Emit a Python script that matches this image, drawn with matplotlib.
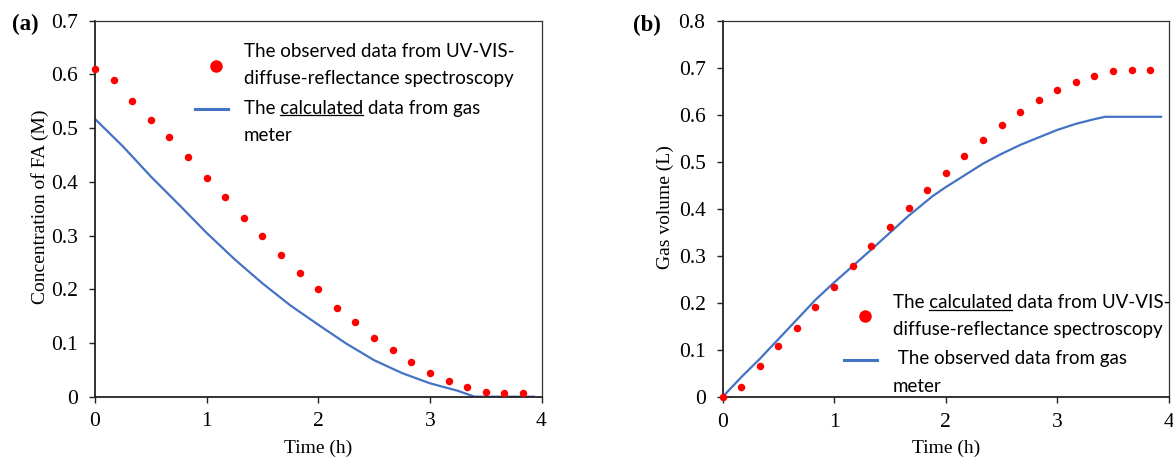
import numpy as np
import matplotlib
matplotlib.use("Agg")
import matplotlib.pyplot as plt
from matplotlib.legend_handler import HandlerLine2D
from matplotlib.lines import Line2D
from matplotlib.transforms import IdentityTransform

# ---------------- data ----------------
time_pts = [0.0, 0.167, 0.333, 0.5, 0.667, 0.833, 1.0, 1.167, 1.333, 1.5, 1.667, 1.833,
            2.0, 2.167, 2.333, 2.5, 2.667, 2.833, 3.0, 3.167, 3.333, 3.5, 3.667, 3.833]

# (a) concentration of FA
fa_observed = [0.611, 0.589, 0.551, 0.515, 0.484, 0.446, 0.407, 0.371, 0.333, 0.299, 0.263, 0.230,
               0.200, 0.166, 0.139, 0.109, 0.087, 0.065, 0.045, 0.029, 0.018, 0.009, 0.007, 0.007]
time_line_a = [0.0, 0.25, 0.5, 0.75, 1.0, 1.25, 1.5, 1.75, 2.0, 2.25, 2.5, 2.75, 3.0, 3.25, 3.4, 3.93]
fa_calculated = [0.517, 0.466, 0.410, 0.358, 0.305, 0.256, 0.211, 0.170, 0.134, 0.099, 0.068, 0.044,
                 0.025, 0.011, 0.0, 0.0]

# (b) gas volume
gas_calculated = [0.0, 0.022, 0.067, 0.108, 0.146, 0.191, 0.234, 0.279, 0.321, 0.362, 0.402, 0.440,
                  0.478, 0.513, 0.548, 0.579, 0.608, 0.633, 0.653, 0.672, 0.684, 0.694, 0.697, 0.697]
time_line_b = [0.0, 0.167, 0.333, 0.5, 0.833, 1.0, 1.167, 1.333, 1.5, 1.667, 1.883, 2.0, 2.167,
               2.333, 2.5, 2.667, 2.833, 3.0, 3.167, 3.333, 3.43, 3.93]
gas_observed = [0.0, 0.042, 0.081, 0.123, 0.207, 0.244, 0.279, 0.314, 0.350, 0.386, 0.428, 0.447,
                0.472, 0.497, 0.518, 0.537, 0.553, 0.569, 0.582, 0.592, 0.597, 0.597]

xticks = [0, 1, 2, 3, 4]
xtick_labels = ["0", "1", "2", "3", "4"]
yticks_a = [0, 0.1, 0.2, 0.3, 0.4, 0.5, 0.6, 0.7]
ytick_labels_a = ["0", "0.1", "0.2", "0.3", "0.4", "0.5", "0.6", "0.7"]
yticks_b = [0, 0.1, 0.2, 0.3, 0.4, 0.5, 0.6, 0.7, 0.8]
ytick_labels_b = ["0", "0.1", "0.2", "0.3", "0.4", "0.5", "0.6", "0.7", "0.8"]

legend_a = ["The observed data from UV-VIS-\ndiffuse-reflectance spectroscopy",
            "The calculated data from gas\nmeter"]
legend_b = ["The calculated data from UV-VIS-\ndiffuse-reflectance spectroscopy",
            " The observed data from gas\nmeter"]

# ---------------- style ----------------
RED = "#FF0000"
BLUE = "#4472C4"
SERIF = "Liberation Serif"
SANS = "Lato"
TICK_FS = 15.5
LABEL_FS = 14
LEG_FS = 13.5

fig = plt.figure(figsize=(11.73, 4.59), dpi=100)
ax_a = fig.add_axes([95 / 1173, 62.3 / 459, 446.5 / 1173, 376 / 459])
ax_b = fig.add_axes([722.5 / 1173, 62.0 / 459, 446.4 / 1173, 375.5 / 459])


class ShiftedHandler(HandlerLine2D):
    """Legend handle shifted by (dx, dy) points inside its box."""
    def __init__(self, dx=0.0, dy=0.0, **kw):
        super().__init__(**kw)
        self._dx = dx
        self._dy = dy

    def create_artists(self, legend, orig_handle, xdescent, ydescent, width, height,
                       fontsize, trans):
        arts = super().create_artists(legend, orig_handle, xdescent, ydescent, width,
                                      height, fontsize, trans)
        for a in arts:
            a.set_xdata(np.asarray(a.get_xdata()) + self._dx)
            a.set_ydata(np.asarray(a.get_ydata()) + self._dy)
        return arts


def style_axes(ax, yticks, ylabels, ylim, ylabel, ylab_x):
    ax.set_xlim(0, 4)
    ax.set_ylim(*ylim)
    ax.set_xticks(xticks)
    ax.set_xticklabels(xtick_labels, fontsize=TICK_FS, family=SERIF)
    ax.set_yticks(yticks)
    ax.set_yticklabels(ylabels, fontsize=TICK_FS, family=SERIF)
    ax.tick_params(direction="out", length=4.2, width=1.0, color="#222222")
    ax.tick_params(axis="y", pad=8)
    ax.tick_params(axis="x", pad=7)
    ax.set_xlabel("Time (h)", fontsize=LABEL_FS, family=SERIF)
    ax.xaxis.set_label_coords(0.5, -0.114)
    ax.set_ylabel(ylabel, fontsize=LABEL_FS, family=SERIF)
    ax.yaxis.set_label_coords(ylab_x, 0.505)
    for s in ["top", "right"]:
        ax.spines[s].set_linewidth(0.9)
        ax.spines[s].set_color("#333333")
    for s in ["left", "bottom"]:
        ax.spines[s].set_linewidth(1.3)
        ax.spines[s].set_color("#222222")


# (a)
ax_a.plot(time_line_a, fa_calculated, color=BLUE, lw=1.6, zorder=2)
ax_a.plot(time_pts, fa_observed, "o", color=RED, ms=5.4, mec="none", zorder=3, clip_on=False)
style_axes(ax_a, yticks_a, ytick_labels_a, (0, 0.7), "Concentration of FA (M)", -0.104)

# (b)
ax_b.plot(time_line_b, gas_observed, color=BLUE, lw=1.6, zorder=2)
ax_b.plot(time_pts, gas_calculated, "o", color=RED, ms=5.4, mec="none", zorder=3, clip_on=False)
style_axes(ax_b, yticks_b, ytick_labels_b, (0, 0.8), "Gas volume (L)", -0.108)

# legends
h_dot = Line2D([], [], ls="none", marker="o", color=RED, ms=9, mec="none")
h_line = Line2D([], [], color=BLUE, lw=2.2)


def make_legend(ax, labels, anchor):
    leg = ax.legend([h_dot, h_line], labels, loc="upper left", bbox_to_anchor=anchor,
                    frameon=False, prop={"family": SANS, "size": LEG_FS},
                    handlelength=1.75, handletextpad=0.85, labelspacing=0.65,
                    borderpad=0, borderaxespad=0,
                    handler_map={h_dot: ShiftedHandler(dx=3.6),
                                 h_line: ShiftedHandler(dy=9.7)})
    for t in leg.get_texts():
        t.set_linespacing(1.75)
    return leg


leg_a = make_legend(ax_a, legend_a, (0.224, 0.941))
leg_b = make_legend(ax_b, legend_b, (0.272, 0.275))

fig.text(11.7 / 1173, 1 - 24 / 459, "(a)", fontsize=16.5, family=SERIF, fontweight="bold",
         va="center", ha="left")
fig.text(633 / 1173, 1 - 25 / 459, "(b)", fontsize=16.5, family=SERIF, fontweight="bold",
         va="center", ha="left")

# underline the word "calculated"
fig.canvas.draw()
renderer = fig.canvas.get_renderer()


def underline(text_obj, prefix, word):
    fp = text_obj.get_fontproperties()

    def extent(s):
        t = fig.text(0, 0, s, fontproperties=fp)
        bb = t.get_window_extent(renderer)
        t.remove()
        return bb

    bb_full = extent(prefix + word)
    bb_word = extent(word)
    bb = text_obj.get_window_extent(renderer)
    x1 = bb.x0 + bb_full.width
    x0 = x1 - bb_word.width
    y = bb.y1 - bb_full.height * 0.93
    fig.add_artist(Line2D([x0, x1], [y, y], transform=IdentityTransform(),
                          color="black", lw=0.9))


underline(leg_a.get_texts()[1], "The ", "calculated")
underline(leg_b.get_texts()[0], "The ", "calculated")

fig.savefig("out.png", dpi=100)
